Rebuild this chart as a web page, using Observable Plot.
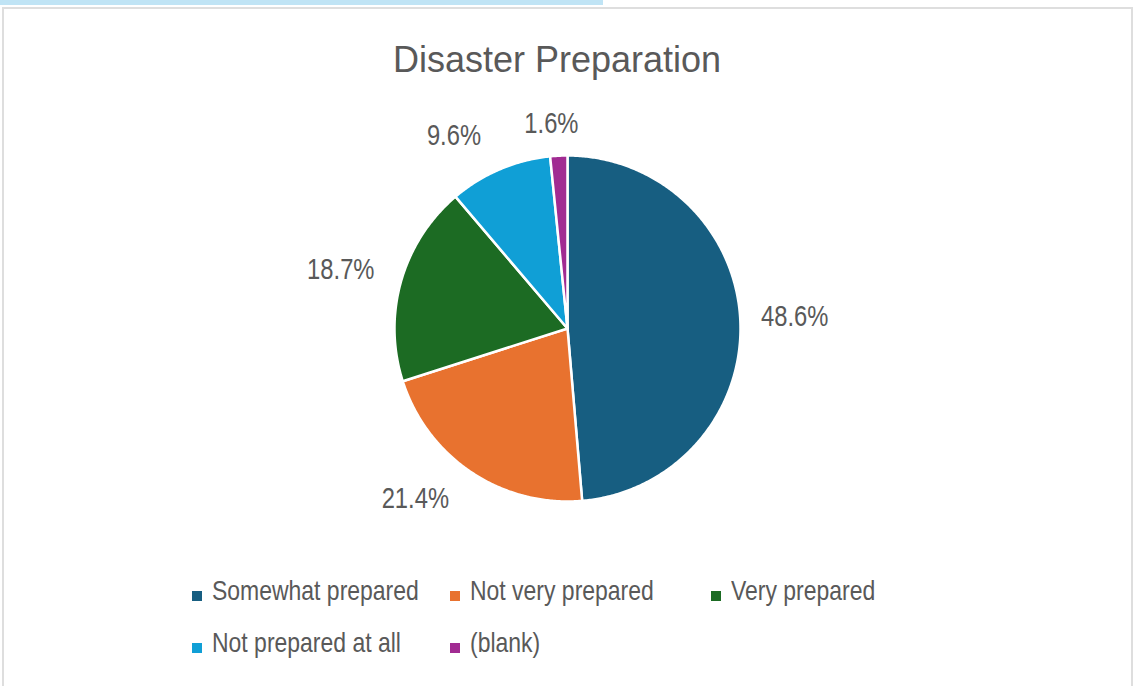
<!DOCTYPE html>
<html>
<head>
<meta charset="utf-8">
<script src="https://cdn.jsdelivr.net/npm/d3@7"></script>
<script src="https://cdn.jsdelivr.net/npm/@observablehq/plot@0.6"></script>
<style>
  html, body { margin: 0; padding: 0; background: #ffffff; }
  #page { position: relative; width: 1137px; height: 686px; overflow: hidden; background: #fff; }
  #topbar { position: absolute; left: 0; top: 0; width: 603px; height: 5px; background: #c0e4f5; }
  #frame { position: absolute; left: 2px; top: 7px; width: 1127px; height: 700px; border: 2px solid #dedede; background: #fff; }
  #title { position: absolute; left: 0; width: 1114px; top: 42px; text-align: center;
           font-family: "Liberation Sans", Arial, sans-serif; font-size: 36px; line-height: 36px; color: #595959; }
  #chart { position: absolute; left: 0; top: 0; }
  .leg { position: absolute; font-family: "Liberation Sans", Arial, sans-serif;
         font-size: 28px; line-height: 28px; color: #595959; white-space: nowrap; }
  .leg .tx { display: inline-block; transform: scaleX(0.82); transform-origin: 0 50%; }
  .leg .sw { position: absolute; width: 10px; height: 10px; left: -20px; top: 14px; }
</style>
</head>
<body>
<div id="page">
  <div id="topbar"></div>
  <div id="frame"></div>
  <div id="chart"></div>
  <div id="title"></div>
  <div id="legend"></div>
</div>
<script>
// ---------------- data ----------------
const chartTitle = "Disaster Preparation";
const categories = ["Somewhat prepared", "Not very prepared", "Very prepared", "Not prepared at all", "(blank)"];
const percents = [48.6, 21.4, 18.7, 9.6, 1.6];
const colors = ["#175e81", "#e8722f", "#1c6b23", "#109fd6", "#a12b92"];

// ---------------- layout ----------------
const cx = 567, cy = 328, R = 173;
const labelFont = 29;
const condense = 0.82;
const labelNudgeX = [0, -26, -8, -27, -5];
const labelNudgeY = [3, 0, 3, 4, 0];
const legendCols = [212, 470, 731];
const legendRows = [577, 629];

document.getElementById("title").textContent = chartTitle;

const data = categories.map((c, i) => ({category: c, value: percents[i], color: colors[i]}));
const arcs = d3.pie().sort(null).value(d => d.value)(data);

const ctx = document.createElement("canvas").getContext("2d");
ctx.font = `${labelFont}px "Liberation Sans", Arial, sans-serif`;

const marks = [];
const labels = [];
arcs.forEach((a, i) => {
  const n = Math.max(2, Math.ceil((a.endAngle - a.startAngle) / (Math.PI / 360)));
  const pts = [{x: 0, y: 0}];
  for (let k = 0; k <= n; k++) {
    const t = a.startAngle + (a.endAngle - a.startAngle) * k / n;
    pts.push({x: Math.sin(t), y: Math.cos(t)});
  }
  marks.push(Plot.line(pts, {x: "x", y: "y", fill: a.data.color, stroke: "white", strokeWidth: 2.5, curve: "linear-closed"}));
  const mid = (a.startAngle + a.endAngle) / 2;
  const text = a.data.value.toFixed(1) + "%";
  const w = ctx.measureText(text).width * condense;
  const h = labelFont * 0.76;
  const px = Math.sin(mid) * R * 1.12 + Math.sin(mid) * w / 2 + labelNudgeX[i];
  const py = Math.cos(mid) * R * 1.12 + Math.cos(mid) * h / 2 + labelNudgeY[i];
  labels.push({x: px / R, y: py / R, text});
});
marks.push(Plot.text(labels, {x: "x", y: "y", text: "text", fontSize: labelFont,
  fontFamily: '"Liberation Sans", Arial, sans-serif', fill: "#595959", textAnchor: "middle", lineAnchor: "middle",
  className: "pct"}));

const plot = Plot.plot({
  width: 1137, height: 686, margin: 0,
  x: {domain: [-1, 1], range: [cx - R, cx + R], axis: null},
  y: {domain: [-1, 1], range: [cy + R, cy - R], axis: null},
  style: {background: "transparent", overflow: "visible"},
  marks
});
// condense percentage labels horizontally (narrow face)
plot.querySelectorAll("g.pct text").forEach(t => {
  const tr = t.getAttribute("transform") || "";
  t.setAttribute("transform", tr + ` scale(${condense},1)`);
});
document.getElementById("chart").appendChild(plot);

const legend = document.getElementById("legend");
categories.forEach((c, i) => {
  const item = document.createElement("div");
  item.className = "leg";
  item.style.left = legendCols[i % 3] + "px";
  item.style.top = legendRows[Math.floor(i / 3)] + "px";
  const sw = document.createElement("span");
  sw.className = "sw";
  sw.style.background = colors[i];
  const tx = document.createElement("span");
  tx.className = "tx";
  tx.textContent = c;
  item.appendChild(sw);
  item.appendChild(tx);
  legend.appendChild(item);
});
</script>
</body>
</html>
